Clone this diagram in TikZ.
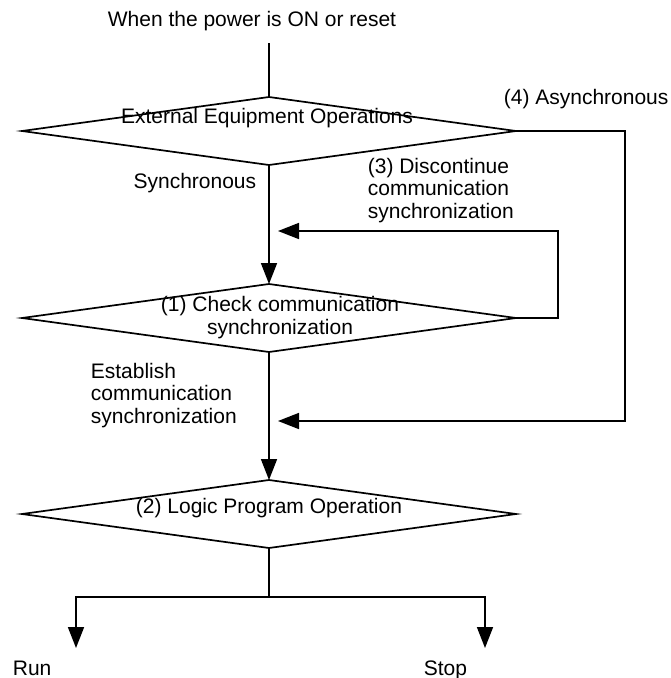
\documentclass[tikz,border=0pt]{standalone}
\usepackage{fontspec}
\setmainfont{Liberation Sans}
\usetikzlibrary{arrows.meta,shapes.geometric,positioning}

\begin{document}
\begin{tikzpicture}[x=1pt,y=-1pt,line width=1.7pt,
    dec/.style={draw,diamond,minimum width=494pt,minimum height=68pt,inner sep=0pt,outer sep=0pt},
    txt/.style={font=\fontsize{21}{22.5}\selectfont,inner sep=0pt,align=left},
    flow/.style={-{Triangle[length=21pt,width=16pt]}}]
  \useasboundingbox (0,0) rectangle (670,678);
  % decisions
  \node[dec] (ext) at (269,131) {};
  \node[dec] (chk) at (269,318) {};
  \node[dec] (logic) at (269,514) {};
  % texts
  \node[txt,anchor=base] (title) at (252,26) {When the power is ON or reset};
  \node[txt,anchor=base] (extlbl) at (267,123) {External Equipment Operations};
  \node[txt,anchor=base west] (async) at (503,104) {(4) Asynchronous};
  \node[txt,anchor=base east] (sync) at (257,188) {Synchronous};
  \node[txt,anchor=base west] (disc) at (367,218) {(3) Discontinue\\communication\\synchronization};
  \node[txt,anchor=base,align=center] (chklbl) at (280,334) {(1) Check communication\\synchronization};
  \node[txt,anchor=base west] (estab) at (90,423) {Establish\\communication\\synchronization};
  \node[txt,anchor=base] (logiclbl) at (269,513) {(2) Logic Program Operation};
  \node[txt,anchor=base west] (run) at (12,675) {Run};
  \node[txt,anchor=base west] (stop) at (423,675) {Stop};
  % connectors
  \coordinate (pwr) at (269,43);
  \draw (pwr) -- (ext.north);
  \draw[flow] (ext.south) -- (chk.north);
  \draw[flow] (chk.south) -- (logic.north);
  \coordinate (loop) at (558,231);
  \coordinate (loopin) at (278,231);
  \draw[flow] (chk.east) -| (loop) -- (loopin);
  \coordinate (asy) at (625,421);
  \coordinate (asyin) at (278,421);
  \draw[flow] (ext.east) -| (asy) -- (asyin);
  \coordinate (fork) at (269,597);
  \coordinate (runin) at (76,648);
  \coordinate (stopin) at (485,648);
  \draw (logic.south) -- (fork);
  \draw[flow] (fork) -| (runin);
  \draw[flow] (fork) -| (stopin);
\end{tikzpicture}
\end{document}
